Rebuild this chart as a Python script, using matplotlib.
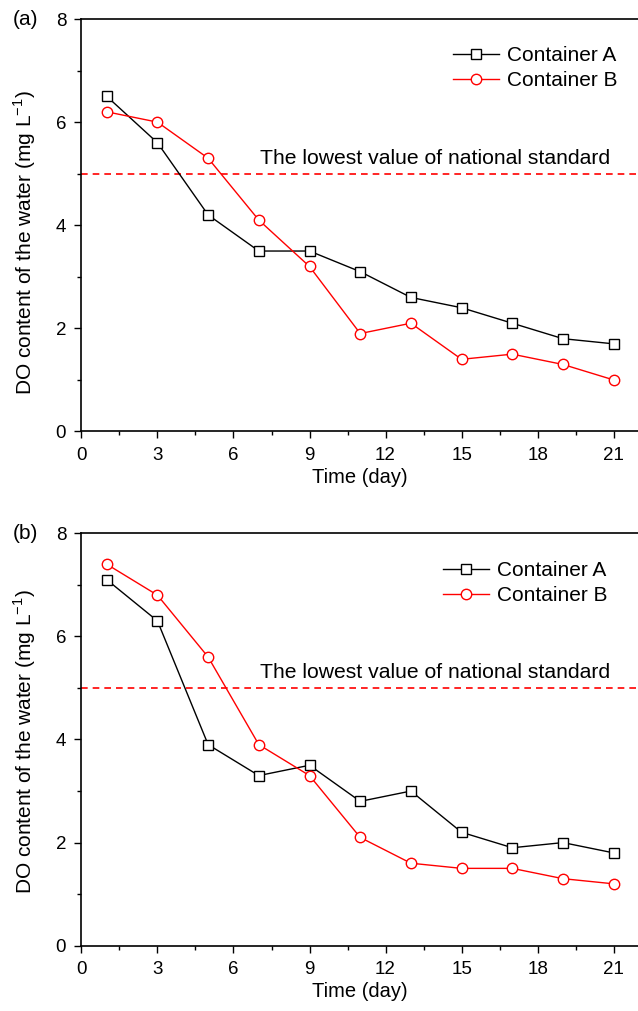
import numpy as np
import matplotlib
matplotlib.use("Agg")
import matplotlib.pyplot as plt
from matplotlib.ticker import MultipleLocator

plt.rcParams['font.family'] = ['Liberation Sans', 'DejaVu Sans']

# --- DATA ---
days = [1, 3, 5, 7, 9, 11, 13, 15, 17, 19, 21]

a_container_a = [6.5, 5.6, 4.2, 3.5, 3.5, 3.1, 2.6, 2.4, 2.1, 1.8, 1.7]
a_container_b = [6.2, 6.0, 5.3, 4.1, 3.2, 1.9, 2.1, 1.4, 1.5, 1.3, 1.0]

b_container_a = [7.1, 6.3, 3.9, 3.3, 3.5, 2.8, 3.0, 2.2, 1.9, 2.0, 1.8]
b_container_b = [7.4, 6.8, 5.6, 3.9, 3.3, 2.1, 1.6, 1.5, 1.5, 1.3, 1.2]

standard = 5.0
x_ticks = [0, 3, 6, 9, 12, 15, 18, 21]
y_ticks = [0, 2, 4, 6, 8]

panels = [
    ("(a)", a_container_a, a_container_b, [0.1276, 0.5732, 0.8724, 0.4080], (0.668, 0.935), 0.458),
    ("(b)", b_container_a, b_container_b, [0.1276, 0.0646, 0.8724, 0.4079], (0.650, 0.933), 0.495),
]

fig = plt.figure(figsize=(6.38, 10.11), dpi=100)

for label, ya, yb, rect, leg_anchor, ylab_y in panels:
    ax = fig.add_axes(rect)
    ax.plot(days, ya, color="black", lw=1.0, marker="s", ms=7,
            mfc="white", mec="black", mew=1.0, label="Container A", zorder=3)
    ax.plot(days, yb, color="red", lw=1.0, marker="o", ms=7.5,
            mfc="white", mec="red", mew=1.0, label="Container B", zorder=3)
    ax.axhline(standard, color="red", lw=1.2, ls=(0, (4, 3)), zorder=2)
    ax.text(7.05, standard + 0.12, "The lowest value of national standard",
            fontsize=15.2, ha="left", va="bottom")

    ax.set_xlim(0, 21.96)
    ax.set_ylim(0, 8)
    ax.set_xticks(x_ticks)
    ax.set_yticks(y_ticks)
    ax.xaxis.set_minor_locator(MultipleLocator(1.5))
    ax.yaxis.set_minor_locator(MultipleLocator(1))
    ax.tick_params(which="both", direction="out", top=False, right=False,
                   labelsize=13.5, width=1.0)
    ax.tick_params(which="major", length=5, pad=6)
    ax.tick_params(which="minor", length=3)
    for s in ["left", "bottom", "top"]:
        ax.spines[s].set_linewidth(1.2)
    ax.spines["right"].set_visible(False)

    ax.set_xlabel("Time (day)", fontsize=14.5, labelpad=3)
    ax.set_ylabel("DO content of the water (mg L$^{\\mathregular{-1}}$)",
                  fontsize=15, labelpad=13)
    ax.yaxis.label.set_y(ylab_y)

    ax.legend(loc="upper left", bbox_to_anchor=leg_anchor, frameon=False,
              fontsize=15, handlelength=2.2, handletextpad=0.4,
              labelspacing=0.3, borderpad=0, borderaxespad=0)

    ax.text(-0.1, 1.0, label, transform=ax.transAxes, fontsize=15,
            ha="center", va="center")

fig.savefig("out.png", dpi=100)
